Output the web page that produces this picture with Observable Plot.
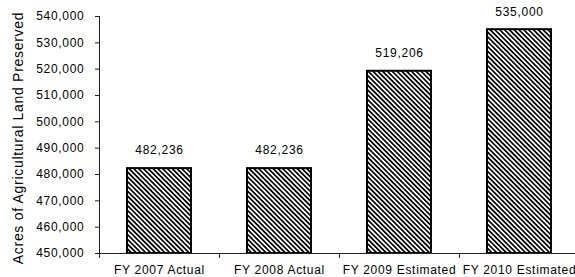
<!DOCTYPE html>
<html><head><meta charset="utf-8">
<script src="https://cdn.jsdelivr.net/npm/d3@7"></script>
<script src="https://cdn.jsdelivr.net/npm/@observablehq/plot@0.6"></script>
<style>
body{margin:0;background:#fff}
svg text{letter-spacing:0.7px}
</style>
</head><body><div id="chart"></div>
<script>
const categories = ["FY 2007 Actual", "FY 2008 Actual", "FY 2009 Estimated", "FY 2010 Estimated"];
const acres = [482236, 482236, 519206, 535000];
const yTicks = [450000, 460000, 470000, 480000, 490000, 500000, 510000, 520000, 530000, 540000];
const yTitle = "Acres of Agricultural Land Preserved";

const data = categories.map((c, i) => ({category: c, acres: acres[i]}));
const fmt = d3.format(",");

const W = 575, H = 277, ML = 99, MT = 16, MB = 24;
const xRange = [ML, W + 4];
const step = (xRange[1] - xRange[0]) / categories.length;

const chart = Plot.plot({
  width: W, height: H,
  marginLeft: ML, marginRight: 0, marginTop: MT, marginBottom: MB,
  style: {fontFamily: "'Liberation Sans', Arial, sans-serif", color: "#000", background: "#fff"},
  x: {domain: categories, range: xRange, paddingInner: 0.467, paddingOuter: 0.233},
  y: {domain: [450000, 540000]},
  marks: [
    Plot.barY(data, {x: "category", y1: 450000, y2: "acres", fill: "url(#hatch)", stroke: "#000", strokeWidth: 2}),
    Plot.ruleY([450000], {stroke: "#222"}),
    Plot.frame({anchor: "left", stroke: "#222"}),
    Plot.axisY({ticks: yTicks, tickFormat: fmt, tickSize: 4, tickPadding: 11, fontSize: 12, label: null, stroke: "#222"}),
    Plot.axisX({tickSize: 0, tickPadding: 12, fontSize: 12, label: null}),
    Plot.axisX({tickSize: 5, tickFormat: () => "", dx: -step / 2, label: null, stroke: "#222"}),
    Plot.text(data, {x: "category", y: "acres", text: d => fmt(d.acres), dy: -18, fontSize: 12}),
    Plot.text([yTitle], {frameAnchor: "left", textAnchor: "middle", lineAnchor: "middle", rotate: -90, dx: -81, dy: 3, fontSize: 14})
  ]
});

const svg = d3.select(chart);
const defs = svg.insert("defs", ":first-child");
const s = 3.4;
const pat = defs.append("pattern")
  .attr("id", "hatch")
  .attr("patternUnits", "userSpaceOnUse")
  .attr("width", s).attr("height", s)
  .attr("patternTransform", "rotate(45)");
pat.append("rect").attr("width", s).attr("height", s).attr("fill", "#fff");
pat.append("rect").attr("width", s).attr("height", s / 2).attr("fill", "#000");

document.getElementById("chart").appendChild(chart);
</script>
</body></html>
